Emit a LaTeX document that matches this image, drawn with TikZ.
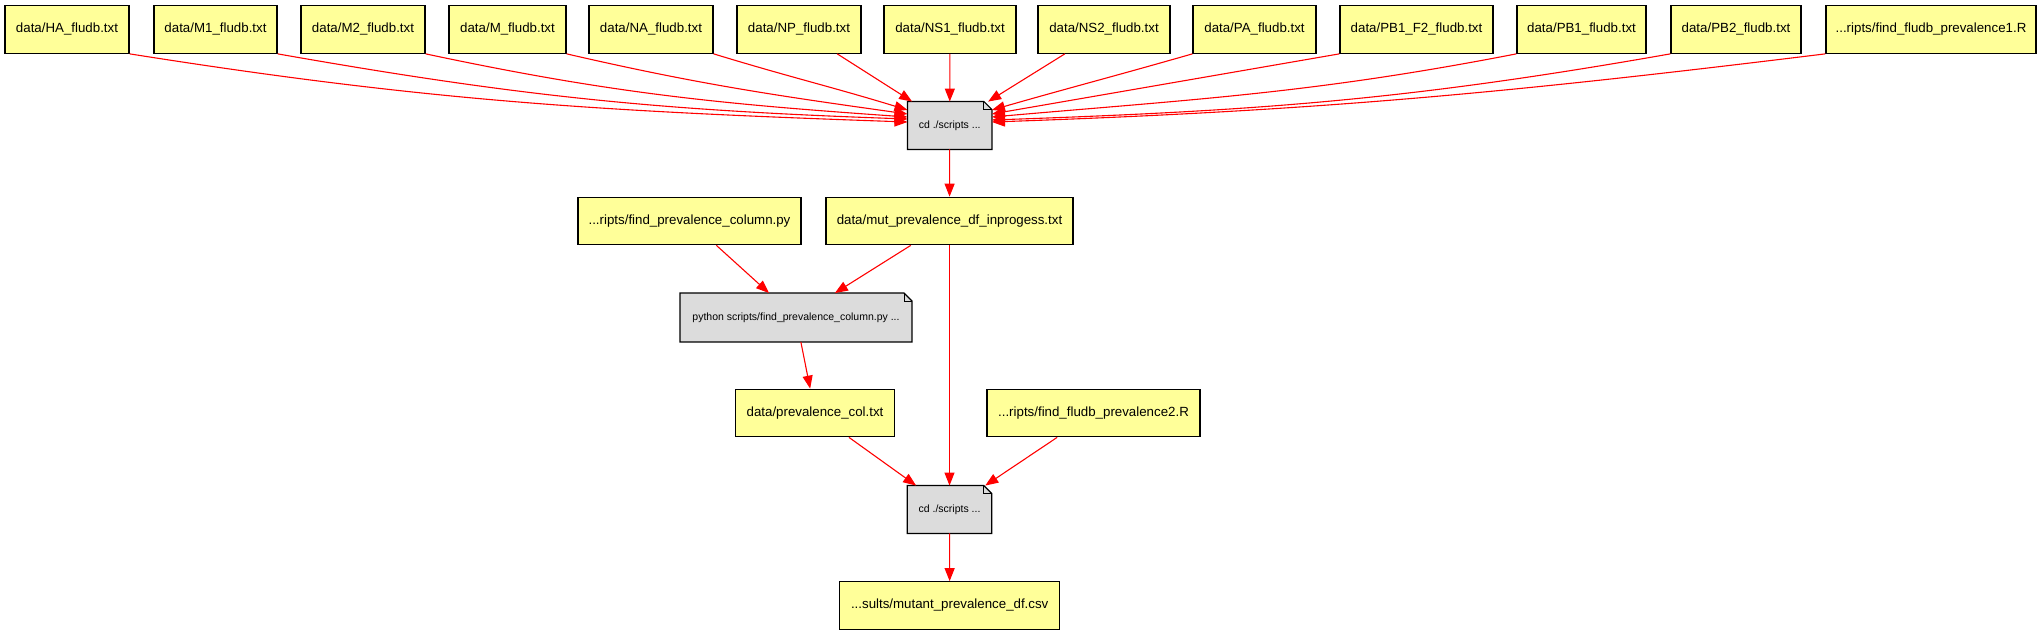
\documentclass[tikz,border=0pt]{standalone}
\usepackage{fontspec}
\setmainfont{Liberation Sans}
\usetikzlibrary{arrows.meta,backgrounds}
\definecolor{fileyellow}{HTML}{FFFF99}
\definecolor{notegray}{HTML}{DCDCDC}
\newcommand{\notedraw}[1]{%
  \begin{pgfonlayer}{background}
    \draw[line width=1.2pt, fill=notegray, line join=miter]
      (#1.south west) -- (#1.north west) -- ([xshift=-8pt]#1.north east)
      -- ([yshift=-8pt]#1.north east) -- (#1.south east) -- cycle;
    \draw[line width=0.9pt] ([xshift=-8pt]#1.north east) |- ([yshift=-8pt]#1.north east);
  \end{pgfonlayer}}
\begin{document}
\begin{tikzpicture}[x=1pt,y=1pt,
  file/.style={draw=black, line width=1.2pt, fill=fileyellow, minimum height=47.5pt,
    inner sep=0pt, font=\fontsize{13.3}{15}\selectfont},
  notebox/.style={minimum width=84pt, minimum height=47.5pt, inner sep=0pt,
    font=\fontsize{10.5}{12}\selectfont},
  edge/.style={draw=red, line width=1.1pt, -{Triangle[length=13pt,width=10pt]}},
]
\useasboundingbox (0,0) rectangle (2044,-635);

% top row
\node[file, minimum width=124pt] (HA) at (67,-29.5) {data/HA\_fludb.txt};
\node[file, minimum width=123pt] (M1) at (215.5,-29.5) {data/M1\_fludb.txt};
\node[file, minimum width=124pt] (M2) at (363,-29.5) {data/M2\_fludb.txt};
\node[file, minimum width=117pt] (M) at (507.5,-29.5) {data/M\_fludb.txt};
\node[file, minimum width=124pt] (NA) at (651,-29.5) {data/NA\_fludb.txt};
\node[file, minimum width=124pt] (NP) at (799,-29.5) {data/NP\_fludb.txt};
\node[file, minimum width=132pt] (NS1) at (950,-29.5) {data/NS1\_fludb.txt};
\node[file, minimum width=132pt] (NS2) at (1104,-29.5) {data/NS2\_fludb.txt};
\node[file, minimum width=123pt] (PA) at (1254.5,-29.5) {data/PA\_fludb.txt};
\node[file, minimum width=153pt] (PB1F2) at (1416.5,-29.5) {data/PB1\_F2\_fludb.txt};
\node[file, minimum width=129pt] (PB1) at (1581.5,-29.5) {data/PB1\_fludb.txt};
\node[file, minimum width=130pt] (PB2) at (1736,-29.5) {data/PB2\_fludb.txt};
\node[file, minimum width=210pt] (R1) at (1931,-29.5) {...ripts/find\_fludb\_prevalence1.R};

% middle
\node[notebox] (cd1) at (949.7,-125.5) {cd ./scripts ...};
\notedraw{cd1}
\node[file, minimum width=223pt] (findcol) at (689.5,-221) {...ripts/find\_prevalence\_column.py};
\node[file, minimum width=247pt] (mut) at (949.5,-221) {data/mut\_prevalence\_df\_inprogess.txt};
\node[notebox, minimum width=231.5pt, minimum height=48.5pt] (python) at (796,-317.5) {python scripts/find\_prevalence\_column.py ...};
\notedraw{python}
\node[file, minimum width=159pt] (prevcol) at (815,-413) {data/prevalence\_col.txt};
\node[file, minimum width=213pt] (R2) at (1093.5,-413) {...ripts/find\_fludb\_prevalence2.R};
\node[notebox] (cd2) at (949.5,-509.5) {cd ./scripts ...};
\notedraw{cd2}
\node[file, minimum width=220pt] (csv) at (949.7,-605.5) {...sults/mutant\_prevalence\_df.csv};

% edges into first command
\draw[edge] (HA.south east) to[out=-9,in=178] ([yshift=3.5pt]cd1.west);
\draw[edge] (M1.south east) to[out=-10,in=178] ([yshift=6.5pt]cd1.west);
\draw[edge] (M2.south east) to[out=-12,in=176] ([yshift=8.5pt]cd1.west);
\draw[edge] (M.south east) to[out=-13,in=172] ([yshift=11.5pt]cd1.west);
\draw[edge] (NA.south east) to[out=-17,in=163] ([yshift=15.5pt]cd1.west);
\draw[edge] (NP) -- (cd1);
\draw[edge] (NS1) -- (cd1);
\draw[edge] (NS2) -- (cd1);
\draw[edge] (PA.south west) to[out=196,in=16] ([yshift=15.5pt]cd1.east);
\draw[edge] (PB1F2.south west) -- ([yshift=11.5pt]cd1.east);
\draw[edge] (PB1.south west) to[out=191,in=5] ([yshift=8.5pt]cd1.east);
\draw[edge] (PB2.south west) to[out=190,in=2] ([yshift=5.5pt]cd1.east);
\draw[edge] (R1.south west) to[out=187,in=2] ([yshift=3.5pt]cd1.east);

% rest
\draw[edge] (cd1) -- (mut);
\draw[edge] (findcol) -- (python);
\draw[edge] (mut) -- (python);
\draw[edge] (python) -- (prevcol);
\draw[edge] (mut) -- (cd2);
\draw[edge] (prevcol) -- (cd2);
\draw[edge] (R2) -- (cd2);
\draw[edge] (cd2) -- (csv);
\end{tikzpicture}
\end{document}
